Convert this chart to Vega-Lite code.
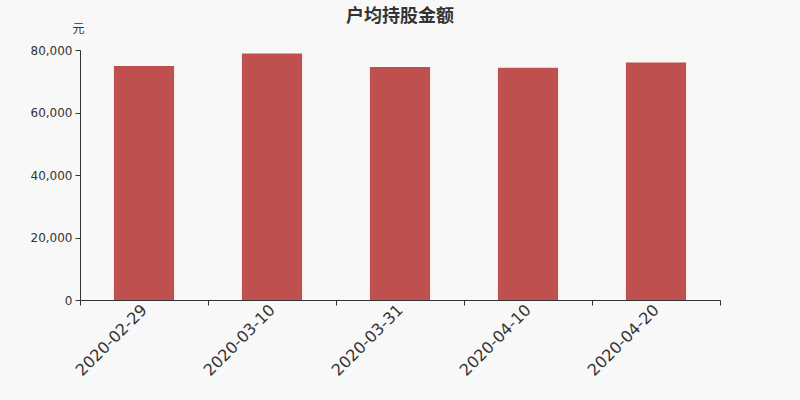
{
  "$schema": "https://vega.github.io/schema/vega-lite/v6.json",
  "width": 640,
  "height": 250,
  "autosize": {"type": "none"},
  "padding": {"left": 80, "top": 50, "right": 80, "bottom": 100},
  "background": "#f8f8f8",
  "title": {
    "text": "户均持股金额",
    "fontSize": 18,
    "fontWeight": "bold",
    "color": "#333333",
    "font": "Noto Sans CJK SC",
    "anchor": "middle",
    "offset": -4
  },
  "data": {
    "values": [
      {"date": "2020-02-29", "value": 74900},
      {"date": "2020-03-10", "value": 78900},
      {"date": "2020-03-31", "value": 74600},
      {"date": "2020-04-10", "value": 74300},
      {"date": "2020-04-20", "value": 76000}
    ]
  },
  "mark": {"type": "bar", "color": "#c0504d", "width": {"band": 0.47}},
  "encoding": {
    "x": {
      "field": "date",
      "type": "nominal",
      "sort": null,
      "scale": {"paddingInner": 0, "paddingOuter": 0},
      "axis": {
        "title": null,
        "labelAngle": -45,
        "labelAlign": "right",
        "labelBaseline": "middle",
        "labelFontSize": 16,
        "labelFont": "DejaVu Sans",
        "labelColor": "#333333",
        "labelPadding": 2,
        "tickBand": "extent",
        "tickSize": 5,
        "tickColor": "#333333",
        "domainColor": "#333333"
      }
    },
    "y": {
      "field": "value",
      "type": "quantitative",
      "scale": {"domain": [0, 80000]},
      "axis": {
        "title": "元",
        "titleAngle": 0,
        "titleX": -2,
        "titleY": -22,
        "titleAlign": "center",
        "titleBaseline": "middle",
        "titleFontSize": 12,
        "titleFontWeight": "normal",
        "titleFont": "Noto Sans CJK SC",
        "titleColor": "#333333",
        "values": [0, 20000, 40000, 60000, 80000],
        "format": ",d",
        "grid": false,
        "labelFontSize": 12,
        "labelFont": "DejaVu Sans",
        "labelColor": "#333333",
        "labelPadding": 3,
        "tickSize": 5,
        "tickColor": "#333333",
        "domainColor": "#333333"
      }
    }
  },
  "config": {"view": {"stroke": null}}
}
